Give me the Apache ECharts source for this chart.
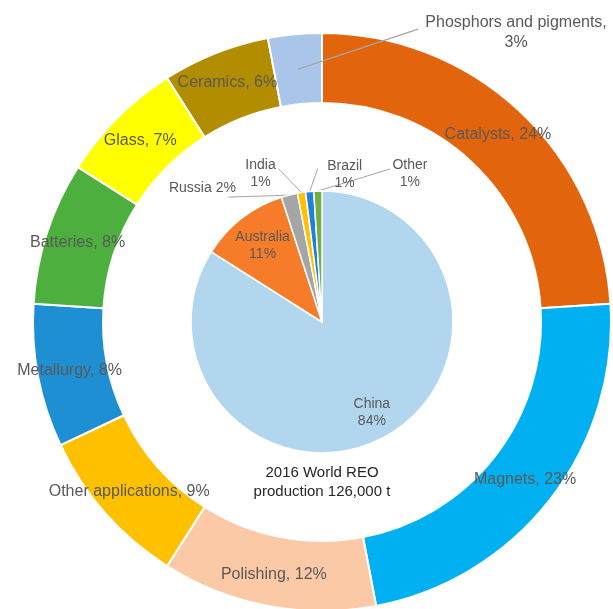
<!DOCTYPE html>
<html><head><meta charset="utf-8">
<script src="https://cdn.jsdelivr.net/npm/echarts@6/dist/echarts.min.js"></script>
<style>html,body{margin:0;padding:0;background:#fff}#c{width:613px;height:609px}</style>
</head><body><div id="c"></div>
<script>
const applications = ['Catalysts','Magnets','Polishing','Other applications','Metallurgy','Batteries','Glass','Ceramics','Phosphors and pigments'];
const applicationShares = [24,23,12,9,8,8,7,6,3];
const countries = ['China','Australia','Russia','India','Brazil','Other'];
const countryShares = [84,11,2,1,1,1];
const centerTitle = ['2016 World REO','production 126,000 t'];

const appColors = ['#E2640C','#00B0F0','#FBC9A5','#FFC000','#1F8FD4','#4DAF3E','#FFFF00','#B38D00','#A9C6EA'];
const countryColors = ['#B3D6EF','#F67C2A','#A5A5A5','#FFC000','#1E83D6','#70AD47'];

const CX = 322, CY = 322, R_PIE = 131, R0 = 219, R1 = 289;
const FONT = 'Liberation Sans, Arial, sans-serif';
const TXT = '#595959';
const LAST = applications.length - 1;

function midAngle(shares, i) {
  const total = shares.reduce((a, b) => a + b, 0);
  let cum = 0;
  for (let k = 0; k < i; k++) cum += shares[k];
  return (cum + shares[i] / 2) / total * Math.PI * 2;
}
function pt(shares, i, r) {
  const a = midAngle(shares, i);
  return [CX + r * Math.sin(a), CY - r * Math.cos(a)];
}

// label placement relative to slice edge/mid (styling, not data)
const innerOutside = {
  2: {lab: [-87, -7], end: [-61, 2]},
  3: {lab: [-41, -19], end: [-23, -24]},
  4: {lab: [35, -17], end: [8, -23]},
  5: {lab: [92, -17], end: [72, -22]}
};
const innerInsideFactor = {0: 0.79, 1: 0.74};

const outerData = applications.map((n, i) => {
  const d = {name: n, value: applicationShares[i], itemStyle: {color: appColors[i]}};
  if (i === LAST) d.label = {show: false};
  return d;
});
// transparent overlay of the ring, carrying only the outside label so its leader line sits on top
const overlayData = applications.map((n, i) => {
  const d = {name: n, value: applicationShares[i]};
  d.label = {show: i === LAST};
  d.labelLine = {show: i === LAST};
  return d;
});
const innerData = countries.map((n, i) => {
  const d = {name: n, value: countryShares[i], itemStyle: {color: countryColors[i]}};
  if (innerOutside[i]) {
    d.label = {position: 'outside', formatter: i === 2 ? '{b} {c}%' : '{b}\n{c}%'};
    d.labelLine = {show: true};
  }
  return d;
});

const chart = echarts.init(document.getElementById('c'), null, {renderer: 'canvas'});
chart.setOption({
  animation: false,
  backgroundColor: '#fff',
  graphic: [{
    type: 'text', x: CX, y: 482,
    style: {text: centerTitle.join('\n'), align: 'center', verticalAlign: 'middle',
      fontFamily: FONT, fontSize: 15, lineHeight: 19, fill: '#262626'}
  }],
  series: [
    {
      type: 'pie', center: [CX, CY], radius: [R0, R1], startAngle: 90, clockwise: true,
      avoidLabelOverlap: false, emphasis: {disabled: true},
      itemStyle: {borderColor: '#fff', borderWidth: 2},
      label: {show: true, position: 'inside', formatter: '{b}, {c}%', color: TXT,
        fontFamily: FONT, fontSize: 16, lineHeight: 20},
      labelLine: {show: false},
      data: outerData
    },
    {
      type: 'pie', z: 5, center: [CX, CY], radius: [R0, R1], startAngle: 90, clockwise: true,
      avoidLabelOverlap: false, emphasis: {disabled: true}, silent: true,
      itemStyle: {color: 'rgba(0,0,0,0)', borderWidth: 0},
      label: {position: 'outside', formatter: '{b},\n{c}%', color: TXT, align: 'center',
        fontFamily: FONT, fontSize: 16, lineHeight: 20},
      labelLine: {lineStyle: {color: '#A6A6A6', width: 1.2}},
      labelLayout: function (p) {
        if (p.dataIndex !== LAST) return {};
        const m = pt(applicationShares, p.dataIndex, (R0 + R1) / 2);
        return {x: m[0] + 218, y: m[1] - 37, align: 'center', verticalAlign: 'middle',
          labelLinePoints: [m, [m[0] + 60, m[1] - 20], [m[0] + 120, m[1] - 40]]};
      },
      data: overlayData
    },
    {
      type: 'pie', center: [CX, CY], radius: [0, R_PIE], startAngle: 90, clockwise: true,
      avoidLabelOverlap: false, emphasis: {disabled: true},
      itemStyle: {borderColor: '#fff', borderWidth: 1.5},
      label: {show: true, position: 'inside', formatter: '{b}\n{c}%', color: TXT,
        fontFamily: FONT, fontSize: 14, lineHeight: 17},
      labelLine: {show: false, lineStyle: {color: '#A6A6A6', width: 1}},
      labelLayout: function (p) {
        const i = p.dataIndex;
        if (innerInsideFactor[i] !== undefined) {
          const m = pt(countryShares, i, R_PIE * innerInsideFactor[i]);
          return {x: m[0], y: m[1], align: 'center', verticalAlign: 'middle'};
        }
        const o = innerOutside[i];
        const e = pt(countryShares, i, R_PIE);
        const end = [e[0] + o.end[0], e[1] + o.end[1]];
        return {x: e[0] + o.lab[0], y: e[1] + o.lab[1], align: 'center', verticalAlign: 'middle',
          labelLinePoints: [e, [(e[0] + end[0]) / 2, (e[1] + end[1]) / 2], end]};
      },
      data: innerData
    }
  ]
});
</script></body></html>
